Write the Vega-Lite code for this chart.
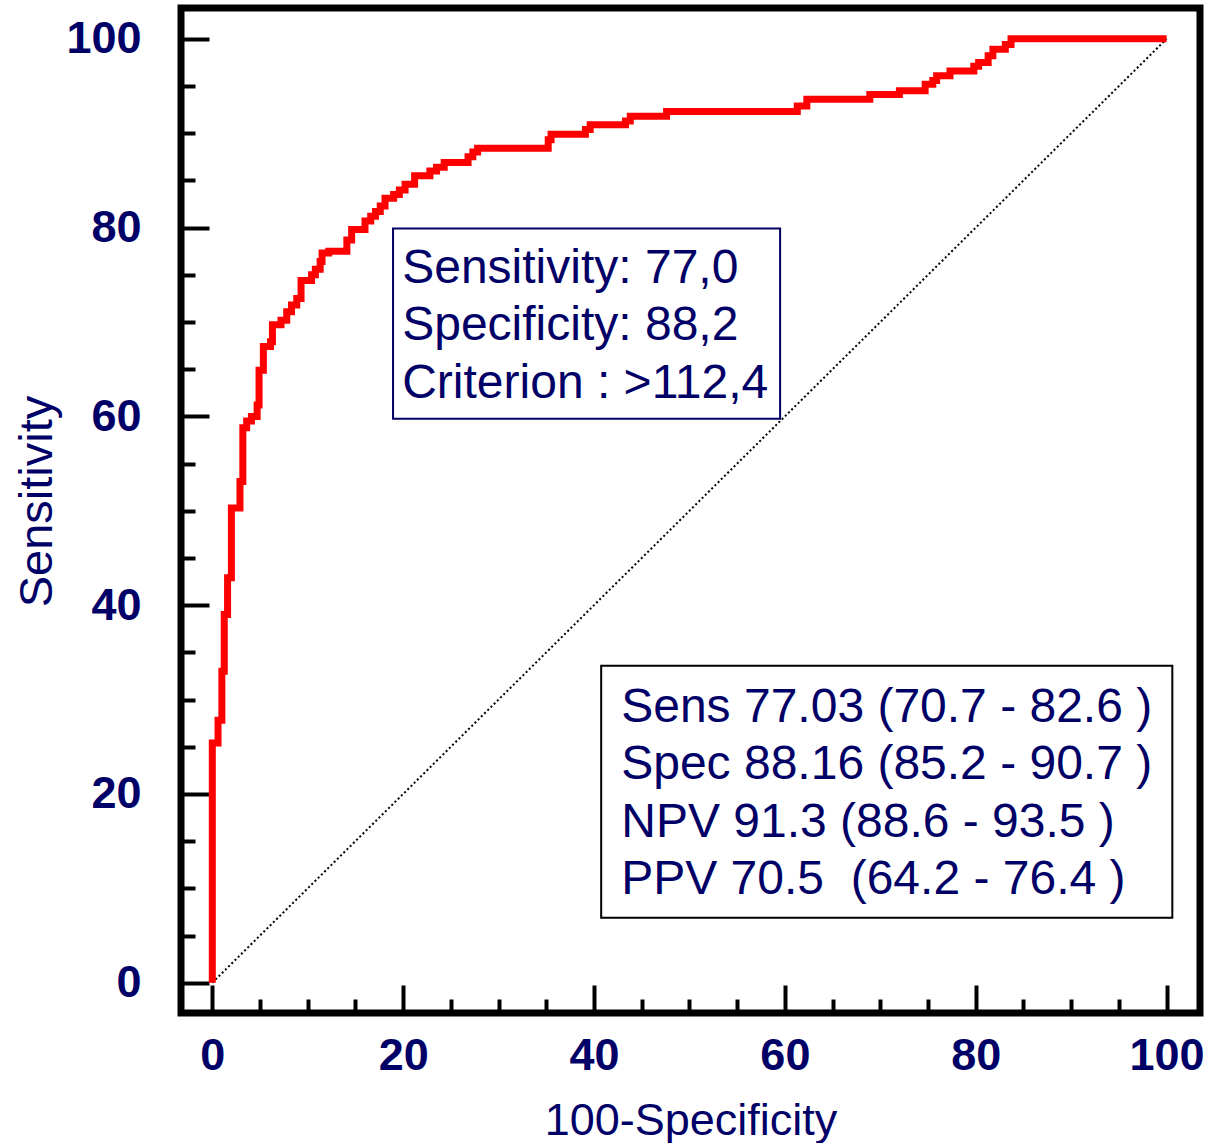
{
  "$schema": "https://vega.github.io/schema/vega-lite/v6.json",
  "width": 1019,
  "height": 1005,
  "autosize": "none",
  "padding": {"left": 181, "top": 8, "right": 10, "bottom": 130},
  "config": {
    "view": {"stroke": "#000000", "strokeWidth": 7},
    "font": "Liberation Sans",
    "axis": {
      "domain": false,
      "grid": false,
      "labelFont": "Liberation Sans",
      "labelFontWeight": "bold",
      "labelFontSize": 45,
      "labelColor": "#000066",
      "labelFlush": false,
      "labelOverlap": false,
      "tickColor": "#000000",
      "tickWidth": 4,
      "titleFont": "Liberation Sans",
      "titleFontWeight": "normal",
      "titleFontSize": 45,
      "titleColor": "#000066"
    }
  },
  "datasets": {
    "roc": [
      {"fpr": 0, "sens": 0}, {"fpr": 0, "sens": 25.4}, {"fpr": 0.6, "sens": 25.4}, {"fpr": 0.6, "sens": 27.8},
      {"fpr": 1.0, "sens": 27.8}, {"fpr": 1.0, "sens": 33.0}, {"fpr": 1.25, "sens": 33.0}, {"fpr": 1.25, "sens": 39.0},
      {"fpr": 1.6, "sens": 39.0}, {"fpr": 1.6, "sens": 42.9}, {"fpr": 2.0, "sens": 42.9}, {"fpr": 2.0, "sens": 50.3},
      {"fpr": 2.9, "sens": 50.3}, {"fpr": 2.9, "sens": 53.1}, {"fpr": 3.2, "sens": 53.1}, {"fpr": 3.2, "sens": 58.8},
      {"fpr": 3.6, "sens": 58.8}, {"fpr": 3.6, "sens": 59.5}, {"fpr": 4.1, "sens": 59.5}, {"fpr": 4.1, "sens": 60.0},
      {"fpr": 4.7, "sens": 60.0}, {"fpr": 4.7, "sens": 61.2}, {"fpr": 4.9, "sens": 61.2}, {"fpr": 4.9, "sens": 64.9},
      {"fpr": 5.35, "sens": 64.9}, {"fpr": 5.35, "sens": 67.4}, {"fpr": 6.1, "sens": 67.4}, {"fpr": 6.1, "sens": 67.9},
      {"fpr": 6.3, "sens": 67.9}, {"fpr": 6.3, "sens": 69.7}, {"fpr": 7.2, "sens": 69.7}, {"fpr": 7.2, "sens": 70.2},
      {"fpr": 7.8, "sens": 70.2}, {"fpr": 7.8, "sens": 71.1}, {"fpr": 8.3, "sens": 71.1}, {"fpr": 8.3, "sens": 71.8},
      {"fpr": 8.85, "sens": 71.8}, {"fpr": 8.85, "sens": 72.5}, {"fpr": 9.3, "sens": 72.5}, {"fpr": 9.3, "sens": 74.4},
      {"fpr": 10.4, "sens": 74.4}, {"fpr": 10.4, "sens": 75.0}, {"fpr": 10.8, "sens": 75.0}, {"fpr": 10.8, "sens": 75.6},
      {"fpr": 11.3, "sens": 75.6}, {"fpr": 11.3, "sens": 76.4}, {"fpr": 11.5, "sens": 76.4}, {"fpr": 11.5, "sens": 77.3},
      {"fpr": 12.2, "sens": 77.3}, {"fpr": 12.2, "sens": 77.5}, {"fpr": 14.1, "sens": 77.5}, {"fpr": 14.1, "sens": 78.7},
      {"fpr": 14.6, "sens": 78.7}, {"fpr": 14.6, "sens": 79.8}, {"fpr": 16.0, "sens": 79.8}, {"fpr": 16.0, "sens": 80.7},
      {"fpr": 16.6, "sens": 80.7}, {"fpr": 16.6, "sens": 81.2}, {"fpr": 17.1, "sens": 81.2}, {"fpr": 17.1, "sens": 81.7},
      {"fpr": 17.6, "sens": 81.7}, {"fpr": 17.6, "sens": 82.3}, {"fpr": 18.1, "sens": 82.3}, {"fpr": 18.1, "sens": 83.1},
      {"fpr": 19.0, "sens": 83.1}, {"fpr": 19.0, "sens": 83.5}, {"fpr": 19.6, "sens": 83.5}, {"fpr": 19.6, "sens": 84.0},
      {"fpr": 20.2, "sens": 84.0}, {"fpr": 20.2, "sens": 84.6}, {"fpr": 21.2, "sens": 84.6}, {"fpr": 21.2, "sens": 85.5},
      {"fpr": 22.8, "sens": 85.5}, {"fpr": 22.8, "sens": 86.0}, {"fpr": 23.5, "sens": 86.0}, {"fpr": 23.5, "sens": 86.4},
      {"fpr": 24.3, "sens": 86.4}, {"fpr": 24.3, "sens": 86.9}, {"fpr": 26.8, "sens": 86.9}, {"fpr": 26.8, "sens": 87.5},
      {"fpr": 27.3, "sens": 87.5}, {"fpr": 27.3, "sens": 88.0}, {"fpr": 27.8, "sens": 88.0}, {"fpr": 27.8, "sens": 88.4},
      {"fpr": 35.2, "sens": 88.4}, {"fpr": 35.2, "sens": 89.3}, {"fpr": 35.5, "sens": 89.3}, {"fpr": 35.5, "sens": 89.9},
      {"fpr": 39.1, "sens": 89.9}, {"fpr": 39.1, "sens": 90.4}, {"fpr": 39.6, "sens": 90.4}, {"fpr": 39.6, "sens": 90.9},
      {"fpr": 43.3, "sens": 90.9}, {"fpr": 43.3, "sens": 91.3}, {"fpr": 43.8, "sens": 91.3}, {"fpr": 43.8, "sens": 91.8},
      {"fpr": 47.6, "sens": 91.8}, {"fpr": 47.6, "sens": 92.3}, {"fpr": 61.3, "sens": 92.3}, {"fpr": 61.3, "sens": 92.9},
      {"fpr": 62.3, "sens": 92.9}, {"fpr": 62.3, "sens": 93.6}, {"fpr": 68.9, "sens": 93.6}, {"fpr": 68.9, "sens": 94.1},
      {"fpr": 72.0, "sens": 94.1}, {"fpr": 72.0, "sens": 94.5}, {"fpr": 74.7, "sens": 94.5}, {"fpr": 74.7, "sens": 95.2},
      {"fpr": 75.5, "sens": 95.2}, {"fpr": 75.5, "sens": 95.6}, {"fpr": 75.9, "sens": 95.6}, {"fpr": 75.9, "sens": 96.1},
      {"fpr": 77.3, "sens": 96.1}, {"fpr": 77.3, "sens": 96.6}, {"fpr": 79.8, "sens": 96.6}, {"fpr": 79.8, "sens": 97.1},
      {"fpr": 80.3, "sens": 97.1}, {"fpr": 80.3, "sens": 97.5}, {"fpr": 81.3, "sens": 97.5}, {"fpr": 81.3, "sens": 98.2},
      {"fpr": 81.8, "sens": 98.2}, {"fpr": 81.8, "sens": 98.9}, {"fpr": 83.1, "sens": 98.9}, {"fpr": 83.1, "sens": 99.4},
      {"fpr": 83.7, "sens": 99.4}, {"fpr": 83.7, "sens": 100}, {"fpr": 100, "sens": 100}
    ],
    "diag": [{"fpr": 0, "sens": 0}, {"fpr": 100, "sens": 100}],
    "box1": [{"x1": 18.94, "x2": 59.5, "y1": 59.75, "y2": 79.9}],
    "box2": [{"x1": 40.75, "x2": 100.6, "y1": 6.87, "y2": 33.57}],
    "txt1": [
      {"tx": 19.9, "ty": 74.14, "t": "Sensitivity: 77,0"},
      {"tx": 19.9, "ty": 68.05, "t": "Specificity: 88,2"},
      {"tx": 19.9, "ty": 61.95, "t": "Criterion : >112,4"}
    ],
    "txt2": [
      {"tx": 42.85, "ty": 27.67, "t": "Sens 77.03 (70.7 - 82.6 )"},
      {"tx": 42.85, "ty": 21.58, "t": "Spec 88.16 (85.2 - 90.7 )"},
      {"tx": 42.85, "ty": 15.48, "t": "NPV 91.3 (88.6 - 93.5 )"},
      {"tx": 42.85, "ty": 9.39, "t": "PPV 70.5\u00a0 (64.2 - 76.4 )"}
    ]
  },
  "layer": [
    {
      "data": {"name": "diag"},
      "mark": {"type": "line", "color": "#000000", "strokeWidth": 2, "strokeDash": [2, 2.5]},
      "encoding": {
        "x": {
          "field": "fpr", "type": "quantitative",
          "scale": {"domain": [-3.28, 103.5], "nice": false, "zero": false},
          "axis": {
            "title": "100-Specificity",
            "values": [0, 5, 10, 15, 20, 25, 30, 35, 40, 45, 50, 55, 60, 65, 70, 75, 80, 85, 90, 95, 100],
            "labelExpr": "datum.value % 20 === 0 ? datum.label : ''",
            "tickSize": {"condition": {"test": "datum.value % 20 === 0", "value": -28}, "value": -14},
            "labelPadding": 48,
            "titleBaseline": "alphabetic",
            "titleY": 121
          }
        },
        "y": {
          "field": "sens", "type": "quantitative",
          "scale": {"domain": [-3.21, 103.27], "nice": false, "zero": false},
          "axis": {
            "title": "Sensitivity",
            "titleFontSize": 47,
            "values": [0, 5, 10, 15, 20, 25, 30, 35, 40, 45, 50, 55, 60, 65, 70, 75, 80, 85, 90, 95, 100],
            "labelExpr": "datum.value % 20 === 0 ? datum.label : ''",
            "tickSize": {"condition": {"test": "datum.value % 20 === 0", "value": -28}, "value": -14},
            "labelPadding": 68,
            "titleBaseline": "alphabetic",
            "titleX": -130,
            "titleY": 493
          }
        }
      }
    },
    {
      "data": {"name": "roc"},
      "mark": {"type": "line", "color": "#ff0000", "strokeWidth": 7},
      "encoding": {
        "x": {"field": "fpr", "type": "quantitative"},
        "y": {"field": "sens", "type": "quantitative"},
        "order": {"value": null}
      }
    },
    {
      "data": {"name": "box1"},
      "mark": {"type": "rect", "fill": "#ffffff", "stroke": "#000066", "strokeWidth": 2},
      "encoding": {
        "x": {"field": "x1", "type": "quantitative"},
        "x2": {"field": "x2"},
        "y": {"field": "y1", "type": "quantitative"},
        "y2": {"field": "y2"}
      }
    },
    {
      "data": {"name": "box2"},
      "mark": {"type": "rect", "fill": "#ffffff", "stroke": "#000000", "strokeWidth": 2},
      "encoding": {
        "x": {"field": "x1", "type": "quantitative"},
        "x2": {"field": "x2"},
        "y": {"field": "y1", "type": "quantitative"},
        "y2": {"field": "y2"}
      }
    },
    {
      "data": {"name": "txt1"},
      "mark": {"type": "text", "align": "left", "baseline": "alphabetic", "fontSize": 48, "font": "Liberation Sans", "color": "#000066"},
      "encoding": {
        "x": {"field": "tx", "type": "quantitative"},
        "y": {"field": "ty", "type": "quantitative"},
        "text": {"field": "t"}
      }
    },
    {
      "data": {"name": "txt2"},
      "mark": {"type": "text", "align": "left", "baseline": "alphabetic", "fontSize": 48, "font": "Liberation Sans", "color": "#000066"},
      "encoding": {
        "x": {"field": "tx", "type": "quantitative"},
        "y": {"field": "ty", "type": "quantitative"},
        "text": {"field": "t"}
      }
    }
  ]
}
